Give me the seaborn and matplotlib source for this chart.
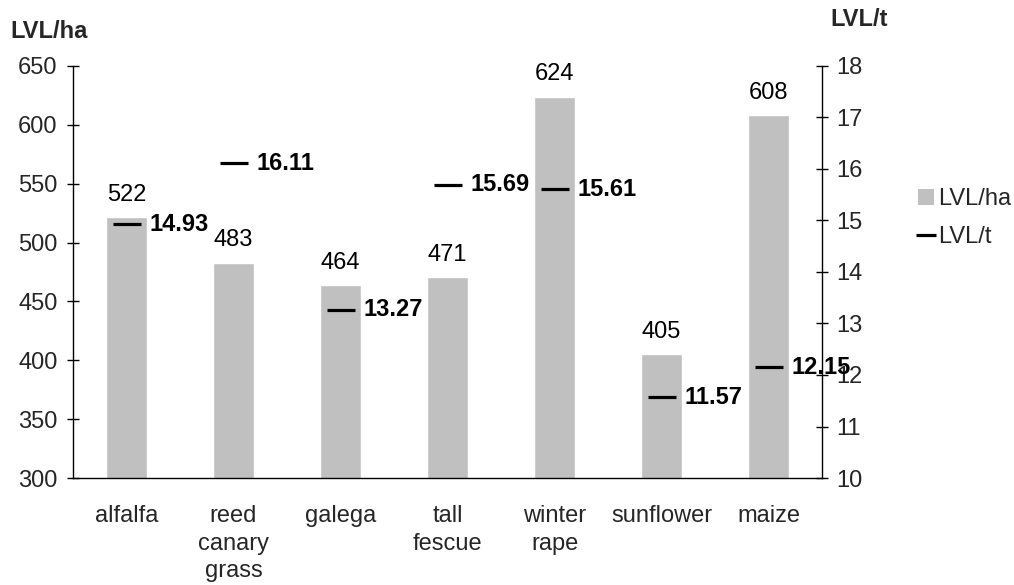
import numpy as np
import pandas as pd
import matplotlib
matplotlib.use("Agg")
import matplotlib.pyplot as plt
from matplotlib.lines import Line2D
from matplotlib.patches import Patch
import seaborn as sns

# Costs per crop: per hectare (bars) and per tonne (dash markers)
crops = ["alfalfa", "reed\ncanary\ngrass", "galega", "tall\nfescue", "winter\nrape", "sunflower", "maize"]
lvl_ha = [522, 483, 464, 471, 624, 405, 608]
lvl_t = [14.93, 16.11, 13.27, 15.69, 15.61, 11.57, 12.15]

sns.set_theme(style="white")
plt.rcParams["font.family"] = ["Liberation Sans", "DejaVu Sans"]
FS = 17

df = pd.DataFrame({"crop": crops, "LVL/ha": lvl_ha, "LVL/t": lvl_t})
df["pos"] = np.arange(len(df))

fig = plt.figure(figsize=(10.14, 5.85), dpi=100)
ax = fig.add_axes([0.072, 0.1829, 0.7387, 0.7043])

sns.barplot(data=df, x="crop", y="LVL/ha", color="#C0C0C0", saturation=1,
            width=0.385, ax=ax, order=crops)
ax.bar_label(ax.containers[0], labels=[str(v) for v in lvl_ha],
             padding=8, fontsize=FS, color="black")

ax.set_ylim(300, 650)
ax.set_yticks(np.arange(300, 651, 50))
ax.set_xlim(-0.5, len(crops) - 0.5)
ax.set_xlabel("")
ax.set_ylabel("")

# boundaries between categories carry the ticks, centres carry the labels
ax.set_xticks(np.arange(-0.5, len(crops), 1.0))
ax.set_xticklabels([])
ax.set_xticks(np.arange(len(crops)), minor=True)
ax.set_xticklabels(crops, minor=True, fontsize=FS, linespacing=1.32)
ax.tick_params(axis="x", which="minor", length=0, pad=19.5)
ax.tick_params(axis="x", which="major", direction="inout", length=8, width=1, color="black")
ax.tick_params(axis="y", direction="inout", length=8, width=1, color="black",
               labelsize=FS, pad=7, left=True)

ax2 = ax.twinx()
sns.scatterplot(data=df, x="pos", y="LVL/t", marker="_", s=20 ** 2, color="black",
                linewidth=2.3, ax=ax2, legend=False, zorder=5)
for x, v in zip(df["pos"], lvl_t):
    ax2.annotate(f"{v:.2f}", (x, v), xytext=(16.5, 0), textcoords="offset points",
                 va="center", ha="left", fontsize=FS, fontweight="bold", color="black")
ax2.set_ylim(10, 18)
ax2.set_yticks(np.arange(10, 19, 1))
ax2.set_ylabel("")
ax2.set_xlabel("")
ax2.set_xlim(-0.5, len(crops) - 0.5)
ax2.tick_params(axis="y", direction="inout", length=8, width=1, color="black",
                labelsize=FS, pad=6, right=True)

for a in (ax, ax2):
    a.spines["top"].set_visible(False)
    for s in ("left", "right", "bottom"):
        a.spines[s].set_color("black")
        a.spines[s].set_linewidth(1.0)
ax.spines["right"].set_visible(False)
ax2.spines["left"].set_visible(False)
ax2.spines["bottom"].set_visible(False)

fig.text(10 / 1014, 1 - 32 / 585, "LVL/ha", fontsize=FS, fontweight="bold",
         ha="left", va="center")
fig.text(830 / 1014, 1 - 20 / 585, "LVL/t", fontsize=FS, fontweight="bold",
         ha="left", va="center")

handles = [Patch(facecolor="#C0C0C0", edgecolor="none"),
           Line2D([], [], color="black", marker="_", linestyle="none",
                  markersize=14, markeredgewidth=2.3)]
fig.legend(handles, ["LVL/ha", "LVL/t"], loc="center left",
           bbox_to_anchor=(897 / 1014, 1 - 218 / 585), frameon=False,
           fontsize=FS, handlelength=0.65, handleheight=0.65, handletextpad=0.2,
           labelspacing=0.65)

fig.savefig("out.png", dpi=100)
